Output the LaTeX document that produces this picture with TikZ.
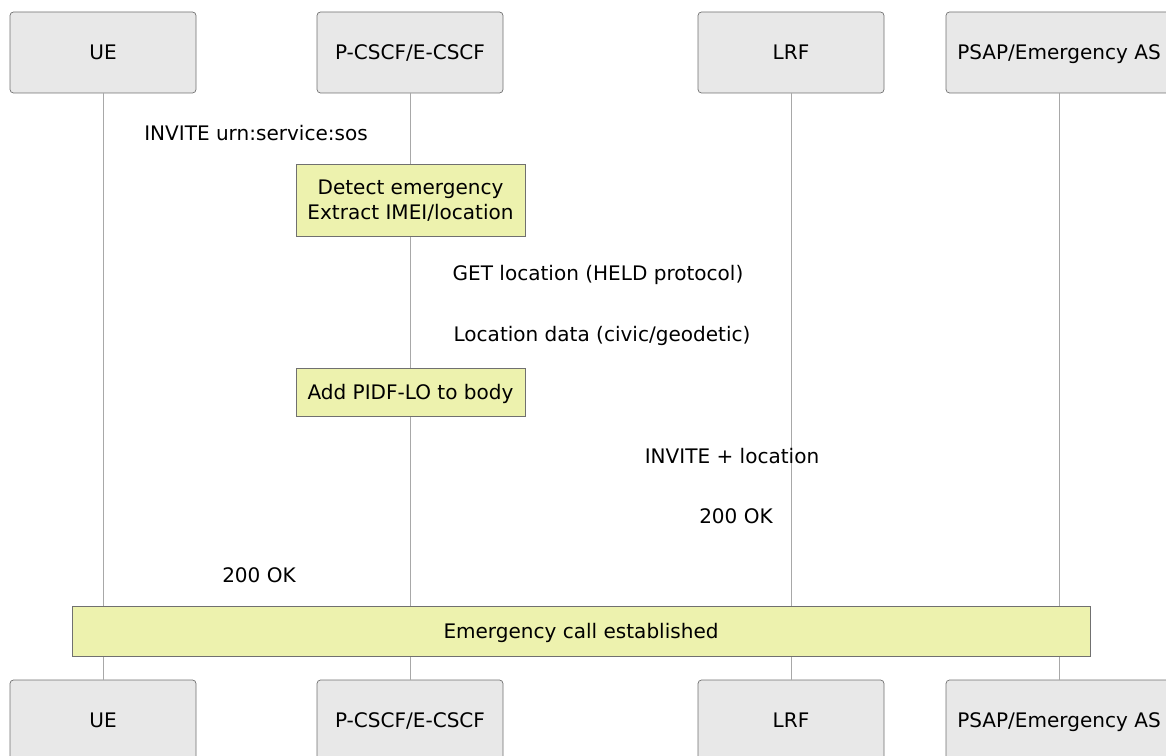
\documentclass[tikz,border=0pt]{standalone}
\usepackage{fontspec}
\setmainfont{DejaVu Sans}
\definecolor{partfill}{HTML}{E8E8E8}
\definecolor{partdraw}{HTML}{707070}
\definecolor{notefill}{HTML}{EDF2AE}
\definecolor{lifegray}{HTML}{A8A8A8}
\tikzset{
	participant/.style={draw=partdraw, fill=partfill, rounded corners=2pt, minimum width=186*0.02cm, minimum height=81*0.02cm, text depth=0pt, font=\fontsize{11.4}{13}\selectfont},
	notebox/.style={draw=partdraw, fill=notefill, align=center, text depth=0pt, font=\fontsize{11.4}{14}\selectfont},
	msg/.style={font=\fontsize{11.4}{13}\selectfont}
}
\begin{document}
\begin{tikzpicture}[x=0.02cm, y=-0.02cm]
		\useasboundingbox (0,0) rectangle (1166,756);
		\clip (0,0) rectangle (1166,756);
		%participants
			\node[participant] (ue) at (103, 52.5){UE};
			\node[participant] (pcscf) at (410, 52.5){P-CSCF/E-CSCF};
			\node[participant] (lrf) at (791, 52.5){LRF};
			\node[participant, minimum width=226*0.02cm] (psap) at (1059, 52.5){PSAP/Emergency AS};
			
			\node[participant] (ueb) at (103, 720.5){UE};
			\node[participant] (pcscfb) at (410, 720.5){P-CSCF/E-CSCF};
			\node[participant] (lrfb) at (791, 720.5){LRF};
			\node[participant, minimum width=226*0.02cm] (psapb) at (1059, 720.5){PSAP/Emergency AS};
			
		%lifelines
			\foreach \p in {ue, pcscf, lrf, psap}{
				\draw[lifegray] (\p.south)--(\p b.north);
			}
			
		%messages
			\node[msg] (invite) at (256, 133){INVITE urn:service:sos};
			\node[notebox, minimum width=229*0.02cm, minimum height=72*0.02cm] (detect) at (410.5, 200){Detect emergency\\Extract IMEI/location};
			\node[msg] (getloc) at (598, 275){GET location (HELD protocol)};
			\node[msg] (locdata) at (602, 336){Location data (civic/geodetic)};
			\node[notebox, minimum width=229*0.02cm, minimum height=48*0.02cm] (pidf) at (410.5, 392){Add PIDF-LO to body};
			\node[msg] (invloc) at (732, 456){INVITE + location};
			\node[msg] (okpsap) at (736, 516){200 OK};
			\node[msg] (okue) at (259, 575){200 OK};
			\node[notebox, minimum width=1018*0.02cm, minimum height=50*0.02cm] (established) at (581, 631){Emergency call established};
		\end{tikzpicture}
\end{document}
